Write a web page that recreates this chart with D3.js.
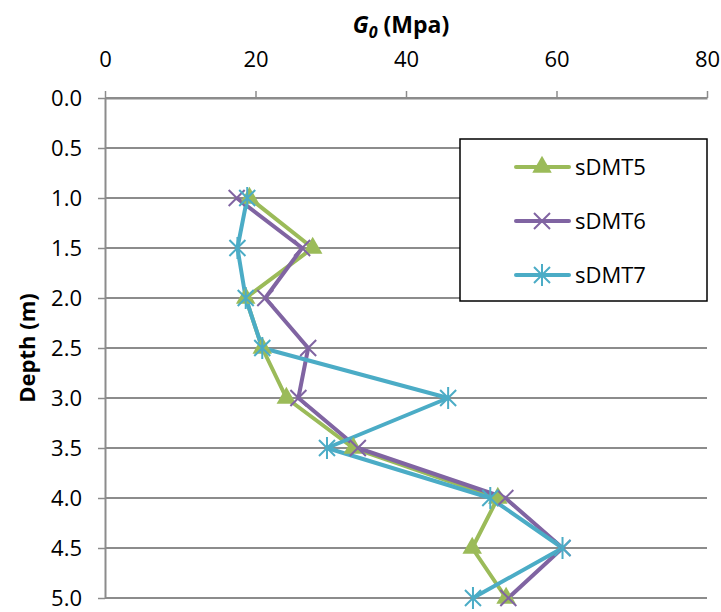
<!DOCTYPE html>
<html>
<head>
<meta charset="utf-8">
<script src="https://cdn.jsdelivr.net/npm/d3@7"></script>
<style>
  body { margin: 0; background: #fff; }
  svg { font-family: "Open Sans", "Noto Sans", sans-serif; }
</style>
</head>
<body>
<div id="wrapper"></div>
<script>
// depth values (m) and G0 (MPa) for each sounding
var depths = [1.0, 1.5, 2.0, 2.5, 3.0, 3.5, 4.0, 4.5, 5.0];
var sDMT5 = [19.2, 27.6, 18.7, 20.9, 24.1, 33.0, 52.2, 48.8, 53.3];
var sDMT6 = [17.5, 26.2, 21.3, 27.0, 25.7, 33.6, 53.2, 60.8, 53.6];
var sDMT7 = [18.9, 17.6, 18.7, 20.9, 45.6, 29.5, 51.2, 60.8, 48.9];
var seriesNames = ["sDMT5", "sDMT6", "sDMT7"];
var xTicks = [0, 20, 40, 60, 80];
var yTicks = [0, 0.5, 1.0, 1.5, 2.0, 2.5, 3.0, 3.5, 4.0, 4.5, 5.0];

var dimension = {
    width: 721,
    height: 612,
    margin: { top: 98, left: 105, right: 14, bottom: 14 }
}
dimension.boundedWidth = dimension.width - dimension.margin.left - dimension.margin.right;
dimension.boundedHeight = dimension.height - dimension.margin.top - dimension.margin.bottom;

var colorScale = d3.scaleOrdinal()
    .domain(seriesNames)
    .range(["#9BBB59", "#8064A2", "#4BACC6"]);

var series = [sDMT5, sDMT6, sDMT7].map(function(vals, i){
    return { name: seriesNames[i], values: vals.map(function(v, j){ return { x: v, y: depths[j] }; }) };
});

const svg = d3.select("#wrapper")
    .append("svg")
    .attr("width", dimension.width)
    .attr("height", dimension.height);

const bounded = svg.append("g")
    .attr("transform", `translate(${dimension.margin.left},${dimension.margin.top})`);

const xScaler = d3.scaleLinear().domain([0, 80]).range([0, dimension.boundedWidth]);
const yScaler = d3.scaleLinear().domain([0, 5]).range([0, dimension.boundedHeight]);

// gridlines
bounded.append("g")
    .selectAll("line")
    .data(yTicks)
    .enter()
    .append("line")
    .attr("x1", 0)
    .attr("x2", dimension.boundedWidth)
    .attr("y1", d => yScaler(d))
    .attr("y2", d => yScaler(d))
    .attr("stroke", "#8c8c8c")
    .attr("stroke-width", 2);

// axes
const xAxis = bounded.append("g")
    .call(d3.axisTop(xScaler).tickValues(xTicks).tickSize(7).tickPadding(24).tickSizeOuter(0));
const yAxis = bounded.append("g")
    .call(d3.axisLeft(yScaler).tickValues(yTicks).tickFormat(d3.format(".1f")).tickSize(7).tickPadding(16).tickSizeOuter(0));

[xAxis, yAxis].forEach(function(a){
    a.select(".domain").attr("stroke", "#8c8c8c").attr("stroke-width", 2);
    a.selectAll(".tick line").attr("stroke", "#8c8c8c").attr("stroke-width", 1.5);
    a.selectAll(".tick text")
        .attr("fill", "#000")
        .style("font-size", "22px")
        .style("font-family", "\"Open Sans\", sans-serif");
});
yAxis.selectAll(".tick text").attr("dy", "0.36em");

// lines
const lineGen = d3.line().x(d => xScaler(d.x)).y(d => yScaler(d.y));

bounded.append("g")
    .selectAll("path")
    .data(series)
    .enter()
    .append("path")
    .attr("d", d => lineGen(d.values))
    .attr("fill", "none")
    .attr("stroke", d => colorScale(d.name))
    .attr("stroke-width", 4)
    .attr("stroke-linejoin", "round");

// markers
function drawMarker(g, name, cx, cy){
    var c = colorScale(name);
    if (name === "sDMT5") {
        g.append("path")
            .attr("d", d3.symbol().type(d3.symbolTriangle).size(165)())
            .attr("transform", `translate(${cx},${cy})`)
            .attr("fill", c);
    } else if (name === "sDMT6") {
        var s = 8;
        g.append("path")
            .attr("d", `M${cx-s},${cy-s}L${cx+s},${cy+s}M${cx-s},${cy+s}L${cx+s},${cy-s}`)
            .attr("stroke", c).attr("stroke-width", 2);
    } else {
        var s = 8, h = 11;
        g.append("path")
            .attr("d", `M${cx-s},${cy-s}L${cx+s},${cy+s}M${cx-s},${cy+s}L${cx+s},${cy-s}M${cx},${cy-h}L${cx},${cy+h}`)
            .attr("stroke", c).attr("stroke-width", 2);
    }
}

const markers = bounded.append("g");
series.forEach(function(s){
    s.values.forEach(function(d){
        drawMarker(markers, s.name, xScaler(d.x), yScaler(d.y));
    });
});

// legend
const legend = svg.append("g");
legend.append("rect")
    .attr("x", 460).attr("y", 139)
    .attr("width", 247).attr("height", 162)
    .attr("fill", "#fff")
    .attr("stroke", "#000")
    .attr("stroke-width", 1.5);

seriesNames.forEach(function(name, i){
    var ly = 167 + i * 54;
    legend.append("line")
        .attr("x1", 516).attr("x2", 569)
        .attr("y1", ly).attr("y2", ly)
        .attr("stroke", colorScale(name))
        .attr("stroke-width", 4)
        .attr("stroke-linecap", "round");
    drawMarker(legend, name, 542, ly);
    legend.append("text")
        .attr("x", 575).attr("y", ly)
        .attr("dy", "0.36em")
        .style("font-size", "22px")
        .text(name);
});

// axis titles
const xTitle = svg.append("text")
    .attr("x", 401).attr("y", 33)
    .attr("text-anchor", "middle")
    .style("font-size", "23px")
    .style("font-weight", "bold");
xTitle.append("tspan").style("font-style", "italic").text("G");
xTitle.append("tspan").style("font-style", "italic").style("font-size", "16px").attr("dy", 5).text("0");
xTitle.append("tspan").attr("dy", -5).text(" (Mpa)");

svg.append("text")
    .attr("transform", "translate(35,348) rotate(-90)")
    .attr("text-anchor", "middle")
    .style("font-size", "22px")
    .style("font-weight", "bold")
    .text("Depth (m)");
</script>
</body>
</html>
